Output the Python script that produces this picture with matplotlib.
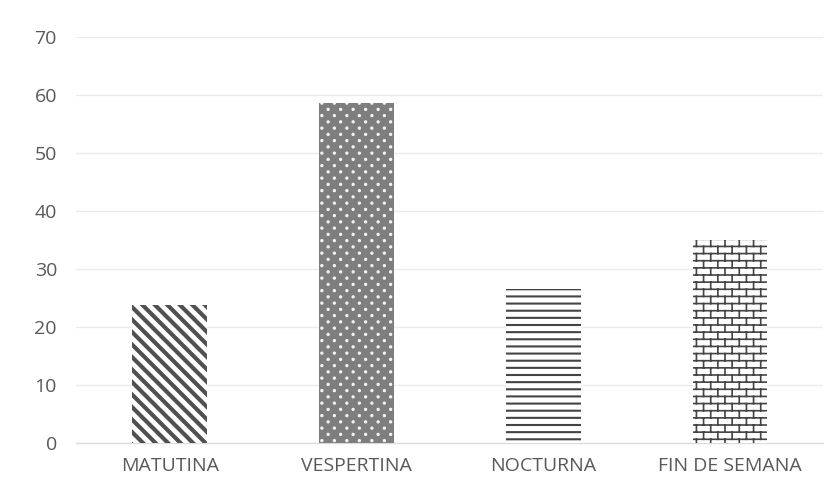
import warnings
import numpy as np
import matplotlib
matplotlib.use("Agg")
import matplotlib.pyplot as plt
from matplotlib import hatch as mhatch
from matplotlib.path import Path

warnings.filterwarnings("ignore")

# ---------------- data ----------------
categories = ["MATUTINA", "VESPERTINA", "NOCTURNA", "FIN DE SEMANA"]
values = [23.8, 58.6, 26.5, 35.0]
yticks = [0, 10, 20, 30, 40, 50, 60, 70]

# ---------------- custom hatch patterns ----------------
class DiagHatch(mhatch.HatchPatternBase):
    """'n' : thick south-east diagonal stripes"""
    def __init__(self, hatch, density):
        self.n = hatch.count('n') * 8
        self.num_vertices = (2 * self.n + 1) * 2 if self.n else 0

    def set_vertices_and_codes(self, vertices, codes):
        c = np.arange(2 * self.n + 1) / self.n
        vertices[0::2, 0] = c - 1
        vertices[0::2, 1] = 1.0
        vertices[1::2, 0] = c
        vertices[1::2, 1] = 0.0
        codes[0::2] = Path.MOVETO
        codes[1::2] = Path.LINETO


class HLines(mhatch.HatchPatternBase):
    """'h' : dense horizontal lines"""
    def __init__(self, hatch, density):
        self.n = hatch.count('h') * 14
        self.num_vertices = self.n * 2

    def set_vertices_and_codes(self, vertices, codes):
        steps, st = np.linspace(0.0, 1.0, self.n, False, retstep=True)
        steps += st / 2.0
        vertices[0::2, 0] = 0.0
        vertices[0::2, 1] = steps
        vertices[1::2, 0] = 1.0
        vertices[1::2, 1] = steps
        codes[0::2] = Path.MOVETO
        codes[1::2] = Path.LINETO


class Bricks(mhatch.HatchPatternBase):
    """'b' : brick wall"""
    def __init__(self, hatch, density):
        k = hatch.count('b')
        self.rows = 14 * k
        self.cols = 7 * k
        if k:
            self.num_vertices = (self.rows + self.rows * self.cols + self.cols) * 2
        else:
            self.num_vertices = 0

    def set_vertices_and_codes(self, vertices, codes):
        rows, cols = self.rows, self.cols
        steps, st = np.linspace(0.0, 1.0, rows, False, retstep=True)
        steps += st / 2.0
        segs = []
        for y in steps:
            segs.append(((0.0, y), (1.0, y)))
        for r in range(rows):
            y0 = steps[r]
            y1 = y0 + st
            off = 0.5 * (r % 2) + 0.25
            for c in range(cols):
                xx = (c + off) / cols
                segs.append(((xx, y0), (xx, y1)))
        off = 0.5 * ((rows - 1) % 2) + 0.25
        for c in range(cols):
            xx = (c + off) / cols
            segs.append(((xx, 0.0), (xx, steps[0])))
        arr = np.array(segs).reshape(-1, 2)
        vertices[:] = arr
        codes[0::2] = Path.MOVETO
        codes[1::2] = Path.LINETO


class Dots(mhatch.HatchPatternBase):
    """'d' : staggered small white dots"""
    def __init__(self, hatch, density):
        k = hatch.count('d')
        self.rows = 16 * k
        self.cols = 8 * k
        circ = Path.unit_circle()
        self.cv = circ.vertices
        self.cc = circ.codes
        self.num_vertices = self.rows * self.cols * len(self.cv) if k else 0

    def set_vertices_and_codes(self, vertices, codes):
        rows, cols = self.rows, self.cols
        r_ = 0.011
        n = len(self.cv)
        i = 0
        for r in range(rows):
            y = (r + 0.5) / rows
            off = 0.25 + 0.5 * (r % 2)
            for c in range(cols):
                xx = (c + off) / cols
                vertices[i:i + n] = self.cv * r_ + (xx, y)
                codes[i:i + n] = self.cc
                i += n


mhatch._hatch_types.extend([DiagHatch, HLines, Bricks, Dots])
try:
    mhatch.valid_hatch_patterns = set(mhatch.valid_hatch_patterns) | set("nhbd")
except Exception:
    pass

# ---------------- figure ----------------
plt.rcParams['font.family'] = ['Open Sans', 'DejaVu Sans']

fig = plt.figure(figsize=(8.4, 5.01), dpi=100)
ax = fig.add_axes([0.091, 0.116, 0.889, 0.810])

x = np.arange(len(categories))
styles = [
    dict(face="white", hatch="n", hcolor="#505050", hlw=3.0),
    dict(face="#7e7e7e", hatch="d", hcolor="#f4f4f4", hlw=0.8),
    dict(face="white", hatch="h", hcolor="#444444", hlw=1.5),
    dict(face="white", hatch="b", hcolor="#444444", hlw=1.2),
]
for xi, v, st in zip(x, values, styles):
    with plt.rc_context({"hatch.linewidth": st["hlw"]}):
        b = ax.bar(xi, v, width=0.40, color=st["face"], edgecolor=st["hcolor"],
                   linewidth=0, hatch=st["hatch"], zorder=3)
        for p in b.patches:
            try:
                p.set_hatch_linewidth(st["hlw"])
            except Exception:
                pass

ax.set_xlim(-0.5, len(categories) - 0.5)
ax.set_ylim(0, 70)
ax.set_yticks(yticks)
ax.set_xticks(x)
ax.set_xticklabels(categories)
ax.yaxis.grid(True, color="#ebebeb", linewidth=1.0, zorder=0)
ax.set_axisbelow(True)
for s in ["top", "right", "left"]:
    ax.spines[s].set_visible(False)
ax.spines["bottom"].set_color("#dcdcdc")
ax.spines["bottom"].set_linewidth(1.0)
ax.tick_params(axis="both", length=0, colors="#595959", labelsize=14)
ax.tick_params(axis="y", pad=14)
ax.tick_params(axis="x", pad=10)

fig.savefig("out.png", dpi=100, facecolor="white")
